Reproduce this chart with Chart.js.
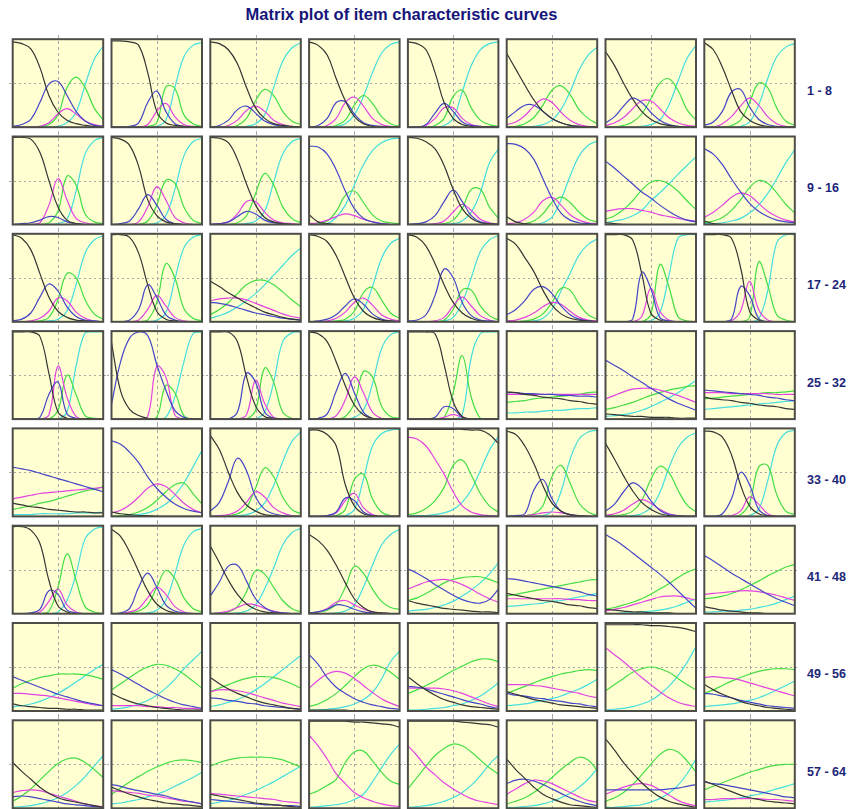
<!DOCTYPE html>
<html>
<head>
<meta charset="utf-8">
<title>Matrix plot of item characteristic curves</title>
<script src="https://cdn.jsdelivr.net/npm/chart.js@4.4.1/dist/chart.umd.min.js"></script>
<style>
  body {
    margin: 0;
    background: #fff;
    width: 864px;
    height: 809px;
    overflow: hidden;
    position: relative;
    font-family: "Liberation Sans", Arial, sans-serif;
  }
  #title {
    position: absolute;
    left: 0;
    top: 6px;
    width: 803px;
    text-align: center;
    font-weight: bold;
    font-size: 16.5px;
    line-height: 1;
    color: #16167a;
  }
  .rowLabel {
    position: absolute;
    left: 807px;
    font-weight: bold;
    font-size: 12.5px;
    line-height: 1;
    color: #1c2678;
    white-space: nowrap;
  }
  canvas { position: absolute; }
</style>
</head>
<body>
<div id="title">Matrix plot of item characteristic curves</div>
<script>
// ability scale (x), 11 points; the dashed guide sits at 0
const theta = [-3, -2.4, -1.8, -1.2, -0.6, 0, 0.6, 1.2, 1.8, 2.4, 3];
const rowLabels = ["1 - 8", "9 - 16", "17 - 24", "25 - 32", "33 - 40", "41 - 48", "49 - 56", "57 - 64"];

// probability (%) of each response category, one list per item 1..64
const black = [
  [97,95,89,68,36,17,8,4,2,1,0],[98,98,97,93,62,18,5,2,1,0,0],[97,95,88,72,45,22,10,4,2,1,0],[97,93,82,55,30,12,4,1,0,0,0],
  [97,95,88,62,28,10,3,1,0,0,0],[84,66,48,31,18,10,5,2,1,0,0],[86,70,50,32,18,9,4,2,1,0,0],[96,88,68,42,18,8,3,1,0,0,0],
  [99,99,97,82,50,20,5,1,0,0,0],[99,97,90,66,28,10,3,1,0,0,0],[99,98,93,74,46,22,8,3,1,0,0],[11,3,1,0,0,0,0,0,0,0,0],
  [99,98,94,86,67,40,18,7,2,1,0],[9,3,1,0,0,0,0,0,0,0,0],[2,1,0,0,0,0,0,0,0,0,0],[4,1,0,0,0,0,0,0,0,0,0],
  [99,95,82,55,28,12,5,2,1,0,0],[99,99,96,78,42,12,3,1,0,0,0],[46,40,33,27,21,16,11,8,5,3,2],[99,97,91,75,51,27,12,5,2,1,0],
  [99,96,86,66,42,22,10,4,1,0,0],[95,88,73,57,36,19,9,4,2,1,0],[99,99,99,93,55,10,2,0,0,0,0],[99,99,99,95,62,12,2,0,0,0,0],
  [99,99,99,94,52,8,1,0,0,0,0],[87,32,11,4,1,0,0,0,0,0,0],[99,99,99,88,48,15,3,1,0,0,0],[99,97,88,65,38,16,5,1,0,0,0],
  [99,99,99,97,62,20,3,0,0,0,0],[31,30,28,27,25,24,23,21,20,18,17],[6,5,4,3,3,2,2,2,1,1,1],[25,23,22,21,19,18,16,15,14,12,11],
  [15,13,11,10,8,7,6,5,5,4,4],[5,3,2,1,1,0,0,0,0,0,0],[92,76,50,27,13,6,2,1,0,0,0],[98,98,93,80,36,12,3,1,0,0,0],
  [99,99,99,99,99,99,99,98,98,93,83],[97,93,80,60,35,15,6,2,1,0,0],[83,65,46,29,16,8,3,1,0,0,0],[97,96,90,70,36,12,3,1,0,0,0],
  [99,99,95,80,38,9,2,0,0,0,0],[96,88,70,48,26,11,4,1,0,0,0],[77,58,38,22,11,5,2,1,0,0,0],[90,83,72,55,35,17,7,2,1,0,0],
  [15,12,10,8,6,5,4,3,2,2,1],[23,21,19,17,15,14,12,10,9,7,6],[5,4,3,2,2,1,1,1,0,0,0],[8,6,4,3,2,1,1,0,0,0,0],
  [8,6,5,4,3,3,2,2,1,1,1],[20,15,11,8,6,4,3,2,1,1,1],[38,31,25,20,16,12,9,7,5,3,2],[1,1,1,1,1,0,0,0,0,0,0],
  [39,31,24,18,13,10,7,5,4,3,2],[22,19,16,13,11,9,7,6,5,4,3],[98,98,98,98,98,97,97,96,95,93,90],[30,24,19,15,11,8,6,4,3,2,1],
  [52,42,33,24,17,12,9,7,5,3,1],[24,20,16,13,10,8,6,5,4,3,2],[16,14,12,10,8,6,5,4,3,2,1],[99,99,99,99,99,98,98,97,96,95,92],
  [99,99,99,99,99,99,98,97,96,95,92],[56,44,34,24,16,11,7,4,3,2,1],[79,66,52,40,29,20,13,8,5,3,1],[31,27,23,19,15,12,10,8,7,6,5]
];

const blue = [
  [1,3,9,28,49,52,36,18,7,2,1],[0,0,1,5,28,41,18,4,1,0,0],[0,2,8,20,24,16,7,3,1,0,0],[0,2,10,28,29,15,5,2,1,0,0],
  [0,0,3,16,27,18,6,2,1,0,0],[10,18,25,25,18,10,5,2,1,0,0],[5,12,24,33,28,17,8,3,1,0,0],[2,6,18,40,43,23,9,3,1,0,0],
  [0,1,2,5,9,8,3,1,0,0,0],[0,1,4,18,34,22,6,1,0,0,0],[0,1,3,9,15,12,5,2,1,0,0],[89,88,80,62,38,18,7,3,1,0,0],
  [0,1,3,10,26,39,26,10,3,1,0],[92,91,86,74,52,30,13,5,2,1,0],[72,64,55,46,37,30,22,15,9,5,3],[86,80,68,52,37,24,15,9,5,3,2],
  [1,3,10,28,43,35,17,6,2,1,0],[0,0,2,14,42,28,8,2,0,0,0],[22,21,19,16,13,10,8,6,4,3,2],[0,1,3,8,18,26,20,9,3,1,0],
  [1,2,8,30,60,50,22,7,2,1,0],[8,14,24,37,40,32,18,8,3,1,0],[0,0,0,3,56,38,5,1,0,0,0],[0,0,0,3,40,30,4,0,0,0,0],
  [0,0,0,2,28,42,6,1,0,0,0],[17,65,92,99,95,62,33,10,2,0,0],[0,0,0,8,52,42,8,1,0,0,0],[0,1,6,32,52,30,8,1,0,0,0],
  [0,0,0,2,14,12,2,0,0,0,0],[30,30,29,29,28,28,27,27,26,26,25],[67,61,55,48,42,35,29,23,18,14,10],[33,32,31,30,29,28,27,25,24,22,21],
  [56,54,52,49,46,43,40,37,34,31,28],[86,82,73,61,45,32,22,14,9,6,4],[6,16,40,66,52,22,8,3,1,0,0],[0,0,1,5,21,18,5,1,0,0,0],
  [0,0,0,0,0,0,0,0,0,0,0],[0,1,3,30,42,20,6,2,0,0,0],[6,14,28,38,32,18,7,2,1,0,0],[0,0,3,20,50,36,8,1,0,0,0],
  [0,0,1,5,26,22,4,1,0,0,0],[0,1,6,30,46,30,10,3,1,0,0],[20,36,54,55,37,17,7,2,1,0,0],[1,2,5,10,9,5,2,1,0,0,0],
  [51,46,40,33,27,21,16,13,12,16,28],[40,39,37,35,33,31,29,27,25,22,20],[90,84,77,69,61,53,45,36,26,16,6],[66,60,53,46,40,34,28,22,17,13,9],
  [39,35,31,27,23,19,16,13,10,8,6],[47,42,36,30,24,19,14,10,7,5,3],[15,14,12,11,9,8,6,5,4,3,2],[64,53,38,27,20,14,10,7,5,3,2],
  [28,27,25,22,19,16,13,10,8,5,3],[20,18,17,15,14,12,11,9,8,6,5],[0,0,0,0,0,0,0,0,0,0,0],[20,19,17,15,12,10,8,6,5,4,3],
  [13,14,13,11,9,7,5,4,3,2,1],[27,25,22,20,18,16,14,11,9,7,5],[10,9,8,7,6,5,4,4,3,3,2],[0,0,0,0,0,0,0,0,0,0,0],
  [0,0,0,0,0,0,0,0,0,0,0],[28,32,33,31,27,22,17,12,8,5,3],[21,21,21,21,21,21,21,22,23,25,27],[30,28,27,25,23,21,19,17,15,13,12]
];

const magenta = [
  [0,0,0,1,5,15,21,15,7,3,1],[0,0,0,0,3,18,27,12,3,1,0],[0,0,2,8,19,24,18,8,3,1,0],[0,0,2,10,28,34,24,10,3,1,0],
  [0,0,2,10,22,22,10,3,1,0,0],[3,6,13,24,32,28,17,8,3,1,0],[2,5,11,21,30,30,21,11,5,2,1],[0,0,4,12,24,33,25,12,4,1,0],
  [0,0,0,2,22,52,28,7,2,0,0],[0,0,0,3,20,43,28,8,2,0,0],[0,1,3,12,26,26,14,5,2,1,0],[1,2,5,9,12,10,6,3,1,0,0],
  [0,0,0,1,4,14,23,16,6,2,0],[1,2,6,14,27,31,22,11,5,2,1],[15,17,18,18,16,14,11,9,7,5,4],[8,14,22,31,36,33,24,15,9,5,3],
  [0,0,1,4,12,27,24,11,4,1,0],[0,0,0,2,14,30,18,5,1,0,0],[24,26,27,27,25,21,17,13,9,6,4],[0,0,1,4,11,22,27,19,8,3,1],
  [0,0,0,1,5,18,28,18,7,2,0],[1,2,5,10,17,22,20,12,5,2,1],[0,0,0,0,6,38,12,2,0,0,0],[0,0,0,1,12,46,14,2,0,0,0],
  [0,0,0,0,5,60,25,3,0,0,0],[0,0,0,0,3,60,48,5,0,0,0],[0,0,0,0,5,44,18,2,0,0,0],[0,0,0,4,22,48,30,8,1,0,0],
  [0,0,0,0,2,5,2,0,0,0,0],[28,28,28,28,28,28,28,28,28,28,28],[23,27,31,34,35,35,33,30,27,23,19],[30,30,30,29,29,29,29,29,28,28,28],
  [20,22,24,26,27,28,29,30,31,32,33],[4,7,13,22,32,37,34,25,15,8,4],[0,1,2,6,16,28,22,10,4,1,0],[0,0,1,4,18,26,10,2,0,0,0],
  [90,88,80,65,48,28,12,5,2,1,0],[0,0,1,2,4,5,4,2,1,0,0],[1,3,7,14,19,15,8,3,1,0,0],[0,0,0,1,6,22,14,3,0,0,0],
  [0,0,0,2,14,28,10,2,0,0,0],[0,0,2,6,18,30,22,8,2,0,0],[0,1,3,7,11,10,6,3,1,0,0],[1,2,6,13,15,10,5,2,1,0,0],
  [28,32,36,38,39,37,33,28,22,17,13],[17,17,17,17,17,17,17,16,16,15,15],[3,5,7,10,13,16,19,20,20,18,15],[22,23,24,25,26,26,25,23,21,18,15],
  [20,20,19,18,17,15,13,11,9,7,6],[6,6,6,6,5,5,4,4,3,3,2],[22,24,24,23,21,18,15,12,9,7,5],[26,35,42,45,43,37,29,21,14,9,5],
  [26,26,26,26,25,23,20,16,12,8,5],[30,30,30,29,28,26,24,22,20,17,15],[72,64,56,47,38,30,22,15,10,7,5],[38,39,38,37,35,32,29,26,23,20,17],
  [18,20,21,20,17,14,11,8,5,3,2],[20,19,18,17,15,14,12,10,8,7,5],[17,16,15,14,13,12,11,10,8,7,6],[83,71,56,39,28,18,12,8,5,3,2],
  [71,60,47,38,29,22,16,11,8,6,4],[16,22,28,32,31,28,23,18,13,9,7],[16,20,24,27,28,26,21,15,9,5,3],[10,10,11,11,11,11,11,10,10,9,8]
];

const green = [
  [0,0,0,1,3,14,45,57,45,22,8],[0,0,0,0,1,5,46,44,14,4,1],[0,0,0,2,10,30,43,36,18,7,3],[0,0,0,2,8,25,36,27,12,4,1],
  [0,0,0,2,10,35,42,22,8,3,1],[0,1,4,11,25,42,47,37,20,10,4],[0,0,2,6,15,32,50,55,42,20,8],[0,0,0,2,8,28,50,45,22,7,2],
  [0,0,0,0,2,15,55,45,12,3,1],[0,0,0,0,4,22,50,47,20,5,1],[0,0,0,2,10,35,58,45,20,7,2],[0,1,4,15,33,38,25,11,4,2,1],
  [0,0,0,0,1,5,18,40,40,20,7],[0,0,1,4,12,25,31,25,14,6,3],[6,10,17,27,39,48,50,46,38,27,17],[2,4,8,16,28,42,50,47,36,23,13],
  [0,0,0,1,5,25,55,50,25,9,3],[0,0,0,0,2,22,66,50,15,4,1],[8,14,22,32,42,47,47,42,34,25,17],[0,0,0,1,3,12,33,39,25,10,4],
  [0,0,0,0,2,14,36,36,18,7,2],[0,0,1,3,9,22,38,36,20,8,3],[0,0,0,0,0,8,65,40,6,1,0],[0,0,0,0,0,5,68,42,8,2,0],
  [0,0,0,0,0,10,50,28,4,1,0],[0,0,0,0,0,2,38,30,4,0,0],[0,0,0,0,0,10,58,42,8,1,0],[0,0,0,0,3,18,54,48,15,3,1],
  [0,0,0,0,2,30,72,25,1,0,0],[19,20,21,23,24,25,26,27,28,30,31],[11,13,16,19,23,27,30,33,35,37,38],[23,24,25,26,27,28,29,30,30,31,32],
  [8,10,12,15,17,20,23,26,29,31,34],[0,1,2,5,10,18,28,36,38,26,14],[0,0,1,3,10,32,55,45,22,8,3],[0,0,0,1,8,42,48,20,5,1,0],
  [2,4,9,18,33,58,64,47,26,12,5],[0,0,1,3,12,45,58,38,15,5,1],[0,1,2,6,18,42,57,50,30,13,5],[0,0,0,0,2,15,56,58,25,6,2],
  [0,0,0,0,3,30,68,38,8,2,0],[0,0,1,3,10,30,49,40,18,6,2],[0,1,2,8,25,49,45,30,15,6,2],[1,2,4,11,30,54,46,28,14,7,5],
  [15,18,23,29,35,39,41,42,42,39,35],[20,22,24,26,28,30,32,34,36,38,39],[5,7,10,13,17,22,28,34,41,47,51],[17,18,20,23,27,32,37,43,48,53,56],
  [26,31,35,38,40,42,42,42,41,39,36],[24,31,38,45,50,53,52,48,42,34,26],[22,26,30,34,37,39,39,38,35,31,26],[5,8,13,20,29,39,48,52,50,44,36],
  [20,24,29,34,40,46,51,56,59,59,56],[20,24,28,32,36,39,42,44,46,47,46],[23,30,37,44,48,50,48,44,37,30,24],[20,24,29,34,38,42,45,47,48,48,47],
  [8,14,22,32,42,51,56,57,52,44,35],[16,23,30,36,42,47,51,54,55,54,52],[48,52,55,57,58,58,58,57,55,51,47],[16,20,26,33,52,64,65,54,41,31,27],
  [22,35,48,60,68,73,71,64,55,46,39],[5,8,12,18,26,35,44,52,58,55,43],[8,12,18,27,38,50,61,67,64,54,41],[21,25,29,33,37,41,44,47,49,50,50]
];

const cyan = [
  [0,0,0,0,0,1,5,17,48,77,92],[0,0,0,0,0,1,8,45,80,93,96],[0,0,0,0,1,4,14,45,75,90,96],[0,0,0,1,4,14,35,62,84,94,97],
  [0,0,0,0,2,10,40,70,88,95,97],[0,0,0,1,3,8,20,40,65,82,91],[0,0,0,0,1,3,8,25,52,78,93],[0,0,0,0,1,6,25,55,80,91,95],
  [0,0,0,0,0,1,6,38,80,95,99],[0,0,0,0,0,2,10,40,78,94,98],[0,0,0,0,1,4,15,48,80,94,98],[0,0,1,8,22,45,68,84,93,97,98],
  [0,0,0,0,0,1,4,14,36,70,86],[0,0,0,0,2,8,28,55,78,90,95],[2,4,6,10,16,27,36,46,57,67,77],[1,1,2,4,7,13,22,35,52,70,85],
  [0,0,0,0,1,3,12,42,78,93,98],[0,0,0,0,0,2,10,48,84,96,99],[4,7,11,17,24,32,42,53,64,75,84],[0,0,0,0,1,4,14,40,72,89,95],
  [0,0,0,0,1,5,22,50,80,93,98],[0,0,0,1,4,14,35,55,76,88,94],[0,0,0,0,0,1,10,52,95,99,99],[0,0,0,0,0,0,3,35,90,99,99],
  [0,0,0,0,0,0,8,60,98,99,99],[0,0,0,0,0,0,2,25,65,97,99],[0,0,0,0,0,0,8,42,88,98,99],[0,0,0,0,0,2,10,40,80,96,99],
  [0,0,0,0,0,0,5,70,97,99,99],[7,7,8,8,9,10,10,11,12,12,13],[3,4,5,7,10,14,19,24,30,37,44],[11,12,13,14,15,16,17,18,19,20,21],
  [2,2,2,3,3,3,3,4,4,4,5],[0,0,1,2,4,8,14,24,38,56,75],[0,0,0,1,2,6,15,35,62,85,96],[0,0,0,0,1,8,42,80,94,98,99],
  [0,1,1,2,4,8,16,30,52,75,91],[0,0,0,0,1,6,28,65,88,96,98],[0,0,0,1,3,10,27,55,78,90,95],[0,0,0,0,0,1,8,40,80,95,98],
  [0,0,0,0,0,2,15,45,85,96,99],[0,0,0,0,1,4,15,45,78,93,97],[0,0,0,1,3,10,28,52,78,92,97],[0,0,0,1,3,10,30,55,78,90,96],
  [3,4,5,7,10,14,20,27,35,45,58],[8,9,10,11,12,14,15,17,19,21,23],[0,0,1,1,2,3,4,6,9,13,17],[2,2,3,3,4,5,7,9,12,16,20],
  [5,6,8,11,15,20,26,33,40,47,53],[2,3,5,8,12,18,26,36,48,58,68],[5,7,10,13,18,24,31,39,47,55,63],[1,1,2,3,5,8,13,21,36,56,68],
  [1,1,2,3,4,6,8,12,17,24,32],[6,7,8,10,12,14,17,21,25,30,36],[1,2,3,5,8,12,19,28,40,55,73],[5,6,7,8,10,12,15,19,24,29,34],
  [1,2,3,5,8,12,18,26,36,48,60],[5,6,8,10,13,16,20,25,30,35,41],[5,7,9,12,16,20,25,30,36,42,48],[1,2,3,4,6,10,16,30,46,61,73],
  [1,2,3,5,8,12,18,26,37,50,60],[1,1,2,3,5,8,12,17,24,33,45],[1,1,2,3,4,7,11,17,26,39,56],[7,8,9,10,12,14,16,19,22,25,28]
];

const series = [
  { data: black, color: "#353535" },
  { data: blue, color: "#4545c8" },
  { data: magenta, color: "#e244e2" },
  { data: green, color: "#45dd45" },
  { data: cyan, color: "#45dddd" },
];

// panel grid geometry
const X0 = 12.7, PITCH_X = 98.8, PW = 90.5;
const Y0 = 39.2, PITCH_Y = 97.3, PH = 88;
const HALF_GAP_X = (PITCH_X - PW) / 2;
const HALF_GAP_Y = (PITCH_Y - PH) / 2;

const zeroIndex = theta.indexOf(0);

const panelPlugin = {
  id: "panel",
  beforeDatasetsDraw(chart) {
    const { ctx, chartArea: a, scales } = chart;
    ctx.save();
    ctx.fillStyle = "#ffffd2";
    ctx.fillRect(a.left, a.top, a.right - a.left, a.bottom - a.top);
    ctx.strokeStyle = "#a8a8a8";
    ctx.lineWidth = 1;
    // vertical guide runs through the whole column, gaps included
    ctx.setLineDash([3, 3]);
    const gx = Math.round(scales.x.getPixelForValue(zeroIndex)) + 0.5;
    ctx.beginPath();
    ctx.moveTo(gx, 0);
    ctx.lineTo(gx, chart.height);
    ctx.stroke();
    // horizontal guide at p = .5 runs across the whole row
    ctx.setLineDash([2, 3]);
    const gy = Math.round(scales.y.getPixelForValue(50)) + 0.5;
    ctx.beginPath();
    ctx.moveTo(0, gy);
    ctx.lineTo(chart.width, gy);
    ctx.stroke();
    ctx.restore();
  },
  afterDraw(chart) {
    const { ctx, chartArea: a } = chart;
    ctx.save();
    ctx.strokeStyle = "#4d4d47";
    ctx.lineWidth = 2;
    ctx.strokeRect(a.left, a.top, a.right - a.left, a.bottom - a.top);
    ctx.restore();
  },
};

function makePanel(item) {
  const row = Math.floor(item / 8);
  const col = item % 8;
  const panelLeft = X0 + PITCH_X * col;
  const panelTop = Y0 + PITCH_Y * row;
  const cellLeft = Math.round(panelLeft - HALF_GAP_X);
  const cellRight = Math.round(panelLeft - HALF_GAP_X + PITCH_X);
  const cellTop = Math.round(panelTop - HALF_GAP_Y);
  const cellBottom = Math.round(panelTop - HALF_GAP_Y + PITCH_Y);

  const canvas = document.createElement("canvas");
  canvas.width = cellRight - cellLeft;
  canvas.height = cellBottom - cellTop;
  canvas.style.left = cellLeft + "px";
  canvas.style.top = cellTop + "px";
  document.body.appendChild(canvas);

  new Chart(canvas, {
    type: "line",
    data: {
      labels: theta,
      datasets: series.map((s) => ({
        data: s.data[item],
        borderColor: s.color,
        borderWidth: 1.2,
        pointRadius: 0,
        fill: false,
        tension: 0.4,
      })),
    },
    options: {
      responsive: false,
      animation: false,
      devicePixelRatio: 1,
      events: [],
      layout: {
        padding: {
          left: panelLeft - cellLeft,
          right: cellRight - (panelLeft + PW),
          top: panelTop - cellTop,
          bottom: cellBottom - (panelTop + PH),
        },
      },
      plugins: { legend: { display: false }, tooltip: { enabled: false } },
      scales: {
        x: { type: "category", display: false, offset: false },
        y: { min: 0, max: 100, display: false },
      },
    },
    plugins: [panelPlugin],
  });
}

for (let i = 0; i < 64; i++) {
  makePanel(i);
}

rowLabels.forEach((text, r) => {
  const label = document.createElement("div");
  label.className = "rowLabel";
  label.textContent = text;
  const centre = Y0 + PITCH_Y * r + PH / 2;
  label.style.top = (centre + 12 - 10.6).toFixed(1) + "px";
  document.body.appendChild(label);
});
</script>
</body>
</html>
